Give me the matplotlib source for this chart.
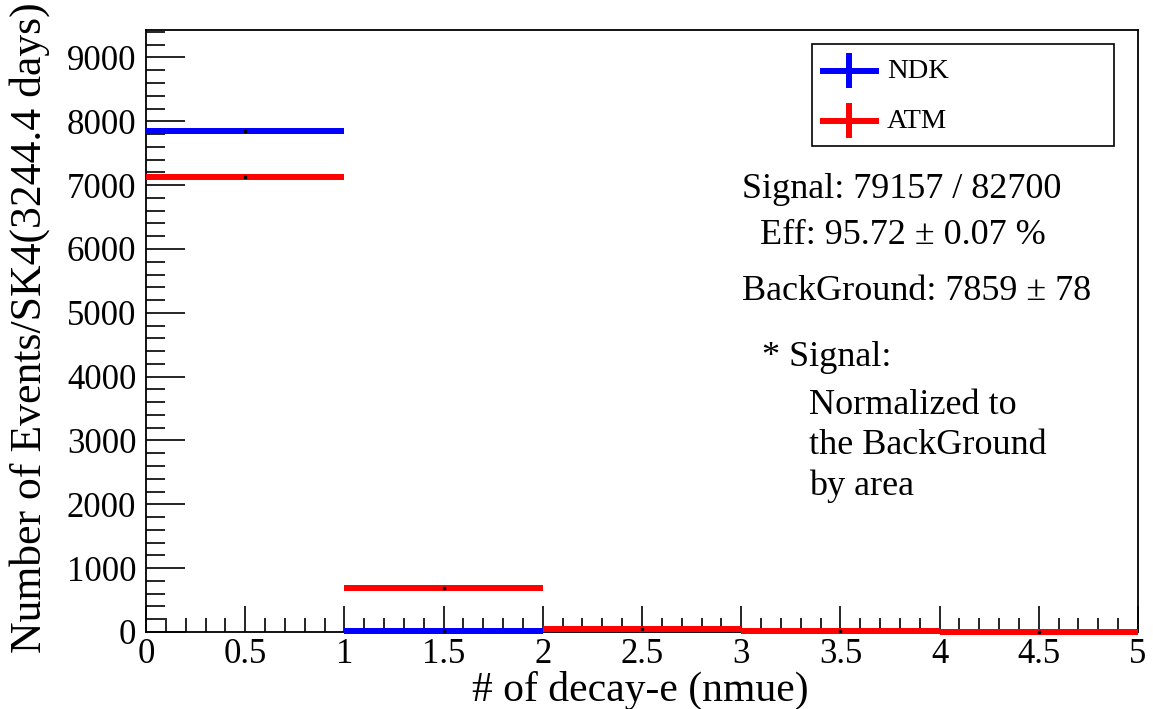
import matplotlib
matplotlib.use("Agg")
import matplotlib.pyplot as plt
from matplotlib.lines import Line2D
from matplotlib.patches import Rectangle
from matplotlib.ticker import MultipleLocator

plt.rcParams['font.family'] = ['Liberation Serif', 'DejaVu Serif']

bin_centers = [0.5, 1.5, 2.5, 3.5, 4.5]
ndk_values = [7845, 20, 0, 0, 0]
atm_values = [7135, 689, 45, 12, 3]
series_names = ["NDK", "ATM"]
series_colors = ["#0000ff", "#ff0000"]
info_lines = [
    ("Signal: 79157 / 82700", 742, 190),
    ("Eff: 95.72 \u00b1 0.07 %", 760, 236),
    ("BackGround: 7859 \u00b1 78", 742, 292),
    ("* Signal:", 762, 358),
    ("Normalized to", 809, 405),
    ("the BackGround", 809, 446),
    ("by area", 809, 486),
]

W, H = 1153, 709
fig = plt.figure(figsize=(W / 100, H / 100), dpi=100)
ax = fig.add_axes([146 / W, 1 - 632 / H, (1138 - 146) / W, (632 - 30) / H])

for vals, col in zip([ndk_values, atm_values], series_colors):
    xs = [x for x, v in zip(bin_centers, vals) if v > 0]
    ys = [v for v in vals if v > 0]
    ax.errorbar(xs, ys, xerr=0.5, fmt='none', ecolor=col,
                elinewidth=4.3, capsize=0, clip_on=False, zorder=3)
    ax.plot(xs, ys, ls='none', marker='s', ms=1.5, color='black',
            clip_on=False, zorder=4)

ax.set_xlim(0, 5)
ax.set_ylim(0, 9430)
ax.xaxis.set_major_locator(MultipleLocator(0.5))
ax.xaxis.set_minor_locator(MultipleLocator(0.1))
ax.yaxis.set_major_locator(MultipleLocator(1000))
ax.yaxis.set_minor_locator(MultipleLocator(200))
ax.set_xticks([0, 0.5, 1, 1.5, 2, 2.5, 3, 3.5, 4, 4.5, 5])
ax.set_xticklabels(["0", "0.5", "1", "1.5", "2", "2.5", "3", "3.5", "4", "4.5", "5"])
ax.tick_params(axis='both', which='both', direction='in', top=False, right=False,
               labelsize=25, width=1.2, colors='black')
ax.tick_params(axis='x', which='major', length=19, pad=4)
ax.tick_params(axis='x', which='minor', length=10)
ax.tick_params(axis='y', which='major', length=28, pad=7)
ax.tick_params(axis='y', which='minor', length=14)
for s in ax.spines.values():
    s.set_linewidth(1.3)

fig.text(640 / W, 1 - 701 / H, "# of decay-e (nmue)", fontsize=30,
         ha='center', va='baseline')
fig.text(30 / W, 1 - 328 / H, "Number of Events/SK4(3244.4 days)", fontsize=31.5,
         ha='center', va='center', rotation=90)

# legend box
tr = fig.transFigure
fig.patches.append(Rectangle((812 / W, 1 - 146 / H), (1114 - 812) / W, (146 - 44) / H,
                             transform=tr, fill=False, edgecolor='black', lw=1.2))
for i, (name, col) in enumerate(zip(series_names, series_colors)):
    yc = 71 + i * 50
    fig.lines.append(Line2D([823 / W, 876 / W], [1 - yc / H, 1 - yc / H],
                            transform=tr, color=col, lw=4.3))
    fig.lines.append(Line2D([849.5 / W, 849.5 / W], [1 - (yc - 15) / H, 1 - (yc + 14) / H],
                            transform=tr, color=col, lw=4.3))
    fig.text(887 / W, 1 - yc / H, name, fontsize=20.5, ha='left', va='center')

for txt, x, y in info_lines:
    fig.text(x / W, 1 - y / H, txt, fontsize=26, ha='left', va='center')

fig.savefig("out.png", dpi=100)
